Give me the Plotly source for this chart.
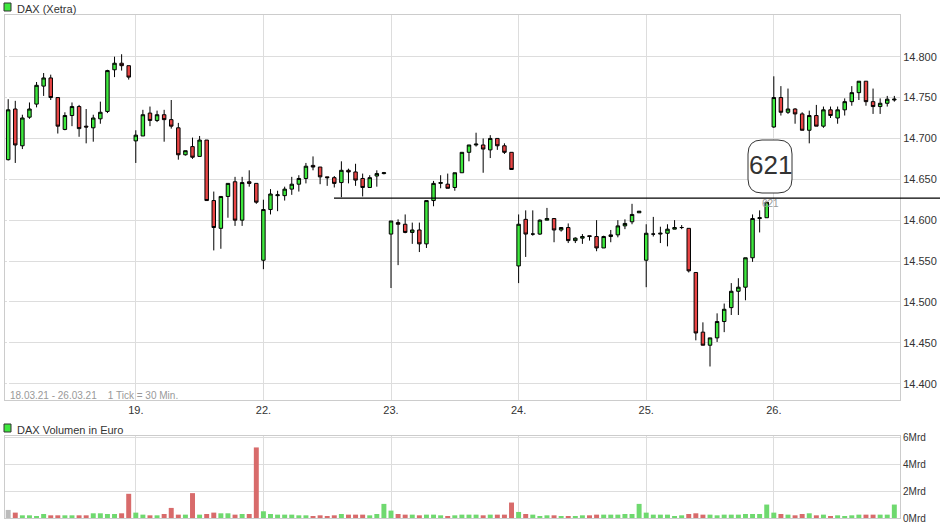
import plotly.graph_objects as go

# 30-min candles, 18 per trading day (18.03.21 - 26.03.21)
day_labels = ['19.', '22.', '23.', '24.', '25.', '26.']

opens = [
    14674, 14736, 14691, 14726, 14742, 14764, 14774, 14750, 14711, 14728, 14739, 14715, 14713, 14724, 14733, 14784, 14792, 14789,
    14697, 14703, 14731, 14722, 14729, 14723, 14713, 14680, 14690, 14678, 14698, 14624, 14590, 14629, 14647, 14600, 14647, 14645,
    14551, 14613, 14630, 14630, 14638, 14644, 14651, 14667, 14665, 14653, 14652, 14646, 14661, 14659, 14651, 14640, 14654, 14657,
    14583, 14597, 14595, 14585, 14588, 14571, 14624, 14645, 14644, 14640, 14658, 14683, 14692, 14692, 14686, 14700, 14691, 14683,
    14544, 14601, 14583, 14583, 14600, 14602, 14588, 14591, 14575, 14578, 14581, 14580, 14566, 14580, 14582, 14593, 14598, 14609,
    14551, 14583, 14583, 14584, 14589, 14591, 14590, 14536, 14463, 14447, 14456, 14476, 14493, 14513, 14518, 14554, 14602, 14603,
    14714, 14750, 14732, 14736, 14730, 14710, 14728, 14715, 14735, 14725, 14735, 14745, 14756, 14770, 14745, 14739, 14743, 14747,
]
closes = [
    14735, 14692, 14725, 14736, 14765, 14774, 14750, 14715, 14728, 14739, 14712, 14714, 14725, 14732, 14783, 14792, 14789, 14775,
    14704, 14729, 14722, 14729, 14723, 14715, 14680, 14685, 14677, 14698, 14624, 14591, 14629, 14645, 14600, 14646, 14645, 14622,
    14613, 14632, 14631, 14638, 14644, 14651, 14666, 14665, 14653, 14652, 14645, 14661, 14659, 14649, 14640, 14652, 14657, 14658,
    14599, 14595, 14585, 14588, 14571, 14624, 14645, 14646, 14639, 14658, 14683, 14692, 14693, 14687, 14700, 14691, 14683, 14662,
    14595, 14583, 14583, 14600, 14602, 14588, 14591, 14575, 14578, 14580, 14580, 14566, 14580, 14582, 14593, 14596, 14607, 14611,
    14584, 14583, 14584, 14589, 14591, 14591, 14538, 14462, 14447, 14456, 14476, 14491, 14513, 14518, 14554, 14602, 14603, 14622,
    14750, 14732, 14736, 14730, 14710, 14728, 14715, 14735, 14728, 14735, 14745, 14756, 14770, 14745, 14739, 14743, 14748, 14748,
]
highs = [
    14748, 14746, 14729, 14744, 14769, 14780, 14778, 14750, 14732, 14744, 14741, 14736, 14729, 14745, 14784, 14800, 14803, 14789,
    14710, 14735, 14739, 14734, 14735, 14747, 14719, 14685, 14701, 14703, 14698, 14635, 14629, 14645, 14653, 14653, 14661, 14645,
    14625, 14638, 14636, 14641, 14653, 14655, 14670, 14678, 14665, 14653, 14654, 14672, 14663, 14669, 14657, 14655, 14661, 14659,
    14599, 14601, 14607, 14597, 14597, 14624, 14648, 14655, 14657, 14658, 14683, 14692, 14707, 14700, 14704, 14700, 14694, 14683,
    14607, 14612, 14612, 14601, 14615, 14602, 14591, 14596, 14579, 14583, 14581, 14600, 14581, 14588, 14600, 14601, 14620, 14611,
    14595, 14604, 14592, 14595, 14600, 14594, 14590, 14536, 14475, 14456, 14486, 14498, 14523, 14529, 14554, 14607, 14612, 14622,
    14776, 14764, 14761, 14737, 14732, 14734, 14741, 14739, 14739, 14739, 14749, 14764, 14770, 14770, 14761, 14749, 14752, 14752,
]
lows = [
    14673, 14670, 14687, 14724, 14738, 14752, 14747, 14706, 14710, 14715, 14702, 14694, 14696, 14718, 14731, 14775, 14783, 14772,
    14670, 14703, 14715, 14720, 14696, 14712, 14674, 14679, 14675, 14678, 14624, 14563, 14565, 14603, 14593, 14593, 14641, 14620,
    14540, 14607, 14611, 14624, 14631, 14635, 14645, 14661, 14644, 14642, 14640, 14628, 14645, 14642, 14629, 14640, 14641, 14656,
    14517, 14545, 14584, 14571, 14561, 14566, 14617, 14639, 14639, 14636, 14658, 14672, 14690, 14658, 14676, 14686, 14681, 14662,
    14523, 14555, 14581, 14582, 14600, 14573, 14586, 14572, 14572, 14571, 14575, 14562, 14566, 14573, 14579, 14589, 14595, 14609,
    14518, 14580, 14572, 14568, 14589, 14589, 14536, 14453, 14447, 14421, 14451, 14463, 14484, 14484, 14502, 14549, 14585, 14603,
    14713, 14728, 14730, 14718, 14710, 14694, 14715, 14713, 14725, 14718, 14728, 14740, 14747, 14740, 14730, 14730, 14739, 14745,
]
# volume in Mrd Euro
volume = [
    0.6, 0.4, 0.2, 0.2, 0.15, 0.3, 0.2, 0.2, 0.2, 0.2, 0.2, 0.2, 0.35, 0.35, 0.3, 0.3, 0.35, 1.8,
    0.4, 0.25, 0.2, 0.2, 0.3, 0.75, 0.25, 0.25, 1.85, 0.25, 0.3, 0.4, 0.35, 0.35, 0.25, 0.3, 0.3, 5.25,
    0.5, 0.3, 0.25, 0.25, 0.25, 0.2, 0.2, 0.15, 0.2, 0.15, 0.2, 0.3, 0.25, 0.25, 0.25, 0.2, 0.3, 1.05,
    0.55, 0.3, 0.25, 0.25, 0.2, 0.25, 0.25, 0.2, 0.15, 0.2, 0.25, 0.25, 0.25, 0.2, 0.25, 0.25, 0.25, 1.15,
    0.45, 0.3, 0.25, 0.15, 0.2, 0.2, 0.15, 0.15, 0.15, 0.2, 0.2, 0.25, 0.25, 0.25, 0.25, 0.3, 0.3, 1.05,
    0.4, 0.25, 0.25, 0.25, 0.15, 0.2, 0.3, 0.35, 0.25, 0.25, 0.2, 0.25, 0.25, 0.25, 0.3, 0.3, 0.3, 1.0,
    0.4, 0.3, 0.25, 0.2, 0.3, 0.35, 0.2, 0.25, 0.15, 0.2, 0.15, 0.2, 0.25, 0.25, 0.25, 0.25, 0.25, 1.0,
]
price_ticks = [14400, 14450, 14500, 14550, 14600, 14650, 14700, 14750, 14800, 14850]
vol_ticks = [0, 2, 4, 6]
support_level = 14627
marker_value = 621

idx = list(range(len(opens)))
vol_colors = ['#bbbbbb'] + ['#6fd96f' if c >= o else '#d86b6b' for o, c in zip(opens[1:], closes[1:])]

GRID = '#dddddd'
FONT = 'Liberation Sans'
W, H = 940, 526

fig = go.Figure()
fig.add_trace(go.Candlestick(
    x=idx, open=opens, high=highs, low=lows, close=closes,
    increasing=dict(line=dict(color='black', width=1), fillcolor='#3ee83e'),
    decreasing=dict(line=dict(color='black', width=1), fillcolor='#e84545'),
    whiskerwidth=0, xaxis='x', yaxis='y', showlegend=False, hoverinfo='skip'))
fig.add_trace(go.Bar(x=idx, y=volume, marker=dict(color=vol_colors, line_width=0),
                     width=0.7, xaxis='x2', yaxis='y2', showlegend=False))

xr = [-0.45, 125.8]
dom_x = [5 / W, 900 / W]
day_ticks = [18, 36, 54, 72, 90, 108]
fig.update_layout(
    width=W, height=H, margin=dict(l=0, r=0, t=0, b=0, autoexpand=False),
    paper_bgcolor='white', plot_bgcolor='white',
    font=dict(family=FONT, size=11, color='#333'),
    xaxis=dict(domain=dom_x, range=xr, tickvals=day_ticks, ticktext=day_labels,
               showgrid=True, gridcolor=GRID, rangeslider=dict(visible=False),
               showline=True, linecolor='#cccccc', mirror=True, ticks='', anchor='y',
               automargin=False),
    yaxis=dict(domain=[1 - 400 / H, 1 - 15 / H], range=[14380, 14851], side='right',
               tickvals=price_ticks,
               ticktext=[f'{v / 1000:.3f}' if v < 14850 else '' for v in price_ticks],
               gridcolor=GRID, showline=True, linecolor='#cccccc', mirror=True,
               zeroline=False, anchor='x', automargin=False),
    xaxis2=dict(domain=dom_x, range=xr, tickvals=day_ticks, showticklabels=False,
                gridcolor=GRID, showline=True, linecolor='#cccccc', mirror=True, anchor='y2',
                automargin=False),
    yaxis2=dict(domain=[1 - 518 / H, 1 - 436 / H], range=[0, 6.1], side='right',
                tickvals=vol_ticks, ticktext=[f'{v}Mrd' for v in vol_ticks],
                tickfont=dict(size=10),
                gridcolor=GRID, showline=True, linecolor='#cccccc', mirror=True,
                zeroline=False, anchor='x2', automargin=False),
    bargap=0.3,
)

# support line
fig.add_shape(type='line', xref='paper', yref='y', x0=334 / W, x1=1,
              y0=support_level, y1=support_level, line=dict(color='black', width=1.2))

# 621 label in a rounded box
bx0, bx1, by0, by1, rr = 748, 792, 140, 193, 14
def px(x): return x / W
def py(y): return 1 - y / H
path = (f'M {px(bx0 + rr)},{py(by0)} L {px(bx1 - rr)},{py(by0)} '
        f'Q {px(bx1)},{py(by0)} {px(bx1)},{py(by0 + rr)} L {px(bx1)},{py(by1 - rr)} '
        f'Q {px(bx1)},{py(by1)} {px(bx1 - rr)},{py(by1)} L {px(bx0 + rr)},{py(by1)} '
        f'Q {px(bx0)},{py(by1)} {px(bx0)},{py(by1 - rr)} L {px(bx0)},{py(by0 + rr)} '
        f'Q {px(bx0)},{py(by0)} {px(bx0 + rr)},{py(by0)} Z')
fig.add_shape(type='path', xref='paper', yref='paper', path=path,
              fillcolor='white', line=dict(color='#333', width=1))
fig.add_annotation(xref='paper', yref='paper', x=px(770), y=py(165), xanchor='center',
                   yanchor='middle', text=str(marker_value), showarrow=False,
                   font=dict(size=26, color='#333', family=FONT))
fig.add_annotation(x=107.5, y=14620, xref='x', yref='y', text=str(marker_value),
                   showarrow=False, font=dict(size=10, color='#999'))

# legends
for ytop, label in [(1.0, 'DAX (Xetra)'), (1 - 421 / H, 'DAX Volumen in Euro')]:
    fig.add_shape(type='rect', xref='paper', yref='paper', x0=4 / W, x1=11 / W,
                  y0=ytop - 11 / H, y1=ytop - 3 / H,
                  fillcolor='#3ee83e', line=dict(color='#333', width=1))
    fig.add_annotation(xref='paper', yref='paper', x=15 / W, y=ytop - 1 / H,
                       xanchor='left', yanchor='top', text=label, showarrow=False,
                       font=dict(size=11, color='#333'))

fig.add_annotation(xref='paper', yref='paper', x=8 / W, y=1 - 388 / H,
                   xanchor='left', yanchor='top', showarrow=False,
                   text='18.03.21 - 26.03.21&nbsp;&nbsp;&nbsp;&nbsp;1 Tick = 30 Min.',
                   font=dict(size=10, color='#999'))

fig.write_html('out.html', config=dict(displayModeBar=False),
               post_script="document.body.style.margin='0';document.body.style.overflow='hidden';")
